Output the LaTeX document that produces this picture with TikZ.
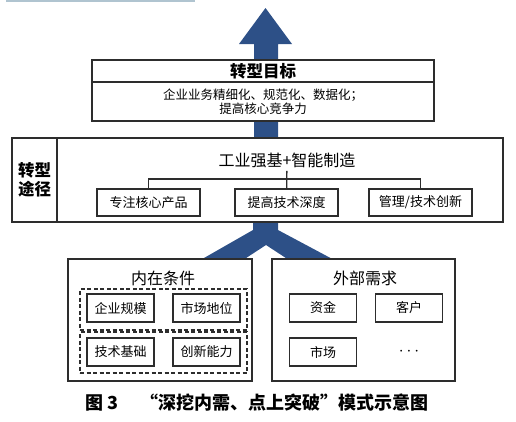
\documentclass[tikz,border=0pt]{standalone}
\usepackage{fontspec}
\setmainfont{Noto Sans CJK SC}
\usetikzlibrary{positioning}
\definecolor{arrowblue}{RGB}{45,80,135}
\definecolor{linegray}{RGB}{45,45,45}
\definecolor{edgeblue}{RGB}{176,196,208}

\begin{document}
\begin{tikzpicture}[x=1pt, y=-1pt,
    box/.style={draw=linegray, line width=1.8pt, fill=white, inner sep=0pt, outer sep=0pt},
    item/.style={box, line width=1.6pt, minimum width=67pt, minimum height=28pt, font=\fontsize{13}{15}\selectfont},
    pathitem/.style={item, minimum width=103pt, minimum height=27pt},
    dashbox/.style={draw=linegray, line width=1.3pt, dash pattern=on 4pt off 2.5pt, minimum width=167pt, minimum height=41pt, inner sep=0pt, outer sep=0pt},
    heading/.style={font=\fontsize{16}{18}\selectfont},
    link/.style={draw=linegray, line width=1.3pt}]
\useasboundingbox (0,0) rectangle (516,421);

%Arrows
\draw[edgeblue, line width=1.5pt] (6,1) -- (195,1);
\fill[arrowblue] (254,140) -- (254,44) -- (239,44) -- (265.5,8) -- (292,44) -- (278,44) -- (278,140) -- cycle;
\fill[arrowblue] (253,220) -- (278,220) -- (278,230) -- (338,262) -- (292,262) -- (266,245) -- (240,262) -- (197,262) -- (253,230) -- cycle;

%Nodes
\node[box, minimum width=342pt, minimum height=22pt, font=\bfseries\fontsize{16.5}{18}\selectfont] (goal) at (263,71) {转型目标};
\node[box, minimum width=342pt, minimum height=39pt, below=0pt of goal, align=center, font=\fontsize{12.5}{13.5}\selectfont] (goaltext) {企业业务精细化、规范化、数据化；\\提高核心竞争力};

\node[box, minimum width=45pt, minimum height=84pt, align=center, font=\bfseries\fontsize{16.5}{19}\selectfont] (waylabel) at (34.5,180) {转型\\途径};
\node[box, minimum width=446pt, minimum height=84pt, right=0pt of waylabel] (way) {};
\node[heading] (waytitle) at (287,160) {工业强基+智能制造};
\node[pathitem] (focus) at (148.5,202.5) {专注核心产品};
\node[pathitem, right=35pt of focus] (depth) {提高技术深度};
\node[pathitem, right=31pt of depth] (innov) {管理/技术创新};

\node[box, minimum width=184pt, minimum height=122pt] (inner) at (160,320) {};
\node[box, minimum width=183pt, minimum height=122pt, right=20pt of inner] (outer) {};
\node[heading] (innertitle) at (163,278) {内在条件};
\node[heading] (outertitle) at (365,278) {外部需求};
\node[dashbox] (basis) at (163.5,309.5) {};
\node[dashbox] (ability) at (163.5,352.5) {};
\node[item] (scale) at (120.5,308) {企业规模};
\node[item, right=19pt of scale] (position) {市场地位};
\node[item, below=16pt of scale] (tech) {技术基础};
\node[item, below=16pt of position] (create) {创新能力};
\node[item] (fund) at (323,308) {资金};
\node[item, right=19pt of fund] (client) {客户};
\node[item, below=16pt of fund] (market) {市场};
\node[font=\fontsize{16}{18}\selectfont] (more) at (client |- market) {$\cdots$};

\node[anchor=west, font=\bfseries\fontsize{18}{20}\selectfont] (caption) at (82,403) {图\ 3\hspace{1.2em}“深挖内需、点上突破”模式示意图};

%Lines
\draw[link] (waytitle) -- (depth);
\draw[link] (focus.north) -- ++(0,-10) -| (innov.north);
\end{tikzpicture}
\end{document}
